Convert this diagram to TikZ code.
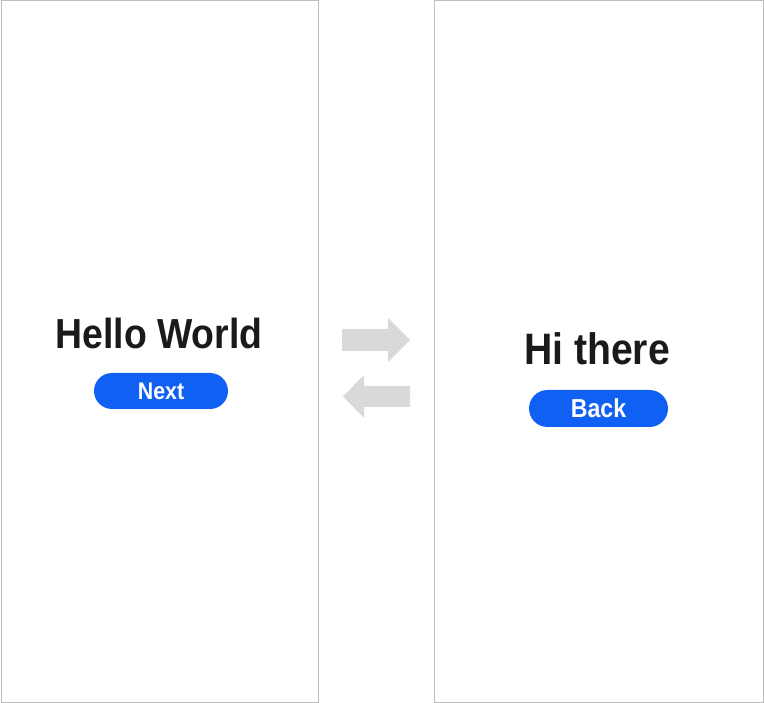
\documentclass[tikz,border=0pt]{standalone}
\usepackage{fontspec}
\setmainfont{Liberation Sans}[FakeStretch=0.89]
\usepackage{tikz}
\usetikzlibrary{shapes.misc}
\definecolor{btnblue}{RGB}{17,96,244}
\definecolor{framegray}{RGB}{190,190,190}
\definecolor{arrowgray}{RGB}{217,217,217}
\definecolor{inkblack}{RGB}{26,26,26}

\begin{document}
\begin{tikzpicture}
        [x=1pt,y=-1pt,
        screen/.style={draw=framegray,line width=1pt,fill=white,inner sep=0,anchor=north west},
        title/.style={text=inkblack,inner sep=0},
        button/.style={rounded rectangle,fill=btnblue,text=white,inner sep=0},
        swap/.style={fill=arrowgray}]

        \useasboundingbox (0,0) rectangle (764,703);

        \node[screen,minimum width=317.5pt,minimum height=701.5pt] (s1) at (0.5,0.5) {};
        \node[screen,minimum width=329pt,minimum height=701.5pt] (s2) at (434,0.5) {};

        \node[title,font=\fontsize{42}{42}\selectfont\bfseries] (t1) at (159,333) {Hello World};
        \node[title,font=\fontsize{44}{44}\selectfont\bfseries] (t2) at (597,349) {Hi there};

        \node[button,minimum width=134pt,minimum height=36pt,font=\fontsize{24}{24}\selectfont\bfseries] (b1) at (161,391) {Next};
        \node[button,minimum width=139pt,minimum height=37pt,font=\fontsize{26}{26}\selectfont\bfseries] (b2) at (598.5,408.5) {Back};

        \fill[swap] (342,329) -- (388,329) -- (388,318) -- (410,340) -- (388,362) -- (388,351) -- (342,351) -- cycle;
        \fill[swap] (410,386) -- (364,386) -- (364,375) -- (343,396.5) -- (364,418) -- (364,407) -- (410,407) -- cycle;
      \end{tikzpicture}
\end{document}
